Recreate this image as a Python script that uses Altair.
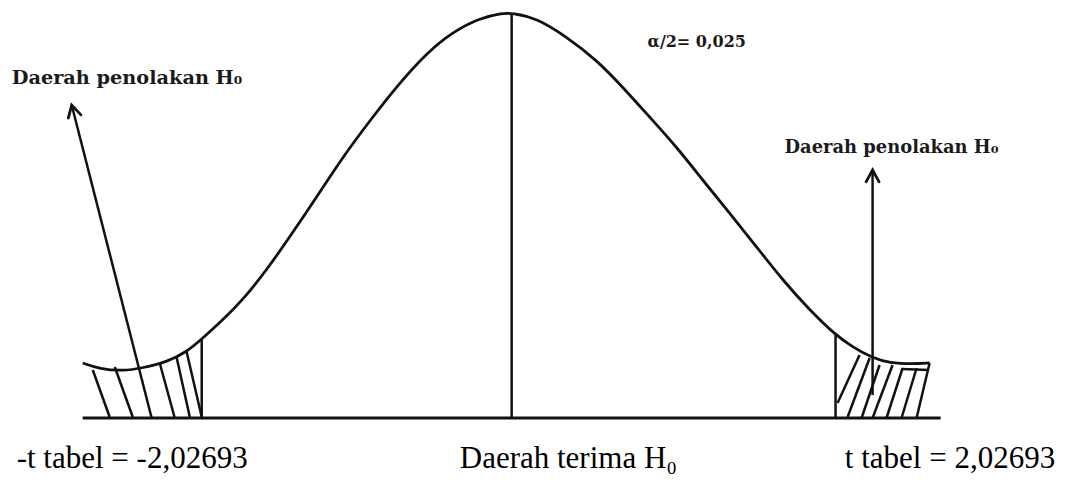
import altair as alt
import pandas as pd

# ---- curve (t position, height) ----
curve_t = [-2.768, -2.658, -2.510, -2.381, -2.226, -2.097, -2.000, -1.884, -1.735, -1.581,
           -1.432, -1.258, -1.090, -0.897, -0.723, -0.548, -0.381, -0.206, -0.058, 0.0,
           0.161, 0.355, 0.548, 0.716, 0.890, 1.065, 1.232, 1.406, 1.581, 1.748,
           1.923, 2.090, 2.200, 2.329, 2.439, 2.587, 2.697]
curve_h = [0.055, 0.049, 0.047, 0.050, 0.056, 0.066, 0.079, 0.095, 0.118, 0.148,
           0.181, 0.221, 0.261, 0.301, 0.335, 0.365, 0.386, 0.400, 0.405, 0.405,
           0.400, 0.381, 0.358, 0.331, 0.301, 0.271, 0.238, 0.205, 0.171, 0.138,
           0.108, 0.083, 0.071, 0.060, 0.055, 0.054, 0.055]

# baseline extent
base_t = [-2.768, 2.768]

# vertical lines: left cut-off, centre, right cut-off
vline_t = [-2.000, 0.0, 2.090]
vline_top = [0.079, 0.404, 0.083]

# hatch segments (x1, y1, x2, y2)
hatch_x1 = [-2.703, -2.561, -2.271, -2.161, -2.097, 2.103, 2.168, 2.258, 2.329, 2.419, 2.516, 2.613, 2.520]
hatch_y1 = [0.048, 0.051, 0.055, 0.060, 0.066, 0.015, 0.001, 0.000, 0.000, 0.000, 0.000, 0.000, 0.049]
hatch_x2 = [-2.594, -2.445, -2.174, -2.077, -2.000, 2.245, 2.310, 2.374, 2.458, 2.523, 2.613, 2.697, 2.690]
hatch_y2 = [0.001, 0.001, 0.000, 0.001, 0.001, 0.063, 0.060, 0.053, 0.053, 0.050, 0.050, 0.055, 0.048]

# arrows (start, tip)
arrow_x1 = [-2.323, 2.329]
arrow_y1 = [0.000, 0.023]
arrow_x2 = [-2.839, 2.329]
arrow_y2 = [0.313, 0.248]
arrow_angle = [345.6, 0.0]

# labels
lab_text = ["Daerah penolakan H\u2080", "\u03b1/2= 0,025", "Daerah penolakan H\u2080"]
lab_t = [-3.226, 0.877, 1.761]
lab_h = [0.340, 0.376, 0.270]
lab_size = [19.3, 16, 17.9]

bot_text = ["-t tabel = -2,02693", "Daerah terima H\u2080", "t tabel = 2,02693"]
bot_t = [-3.194, -0.335, 2.150]
bot_h = [-0.041, -0.041, -0.041]

xs = alt.Scale(domain=[-3.25, 3.59], nice=False, zero=False)
ys = alt.Scale(domain=[-0.06, 0.41], nice=False, zero=False)
INK = "#111111"

curve_df = pd.DataFrame({"t": curve_t, "h": curve_h})
base_df = pd.DataFrame({"t1": [base_t[0]], "t2": [base_t[1]], "h": [0.0]})
vl_df = pd.DataFrame({"t": vline_t, "h1": [0.0] * 3, "h2": vline_top})
hatch_df = pd.DataFrame({"x1": hatch_x1, "y1": hatch_y1, "x2": hatch_x2, "y2": hatch_y2})
arrow_df = pd.DataFrame({"x1": arrow_x1, "y1": arrow_y1, "x2": arrow_x2, "y2": arrow_y2,
                         "ang": arrow_angle})
lab_df = pd.DataFrame({"txt": lab_text, "t": lab_t, "h": lab_h, "s": lab_size})
bot_df = pd.DataFrame({"txt": bot_text, "t": bot_t, "h": bot_h})

curve = alt.Chart(curve_df).mark_line(color=INK, strokeWidth=2.8, interpolate="basis").encode(
    x=alt.X("t:Q", scale=xs, axis=None), y=alt.Y("h:Q", scale=ys, axis=None))

base = alt.Chart(base_df).mark_rule(color=INK, strokeWidth=3).encode(
    x=alt.X("t1:Q", scale=xs, axis=None), x2="t2:Q", y=alt.Y("h:Q", scale=ys, axis=None))

vlines = alt.Chart(vl_df).mark_rule(color=INK, strokeWidth=2.5).encode(
    x=alt.X("t:Q", scale=xs, axis=None), y=alt.Y("h1:Q", scale=ys, axis=None), y2="h2:Q")

hatch = alt.Chart(hatch_df).mark_rule(color=INK, strokeWidth=2.5).encode(
    x=alt.X("x1:Q", scale=xs, axis=None), y=alt.Y("y1:Q", scale=ys, axis=None),
    x2="x2:Q", y2="y2:Q")

arrows = alt.Chart(arrow_df).mark_rule(color=INK, strokeWidth=2.5).encode(
    x=alt.X("x1:Q", scale=xs, axis=None), y=alt.Y("y1:Q", scale=ys, axis=None),
    x2="x2:Q", y2="y2:Q")

heads = alt.Chart(arrow_df).mark_point(
    shape="M-0.55,1L0,0L0.55,1", filled=False, color=INK, strokeWidth=2.8, size=560,
    opacity=1, strokeCap="round", strokeJoin="miter").encode(
    x=alt.X("x2:Q", scale=xs, axis=None), y=alt.Y("y2:Q", scale=ys, axis=None),
    angle=alt.Angle("ang:Q", scale=None))

labels = alt.Chart(lab_df).mark_text(align="left", baseline="middle", font="DejaVu Serif",
                                     fontWeight="bold", color="#1a1a1a").encode(
    x=alt.X("t:Q", scale=xs, axis=None), y=alt.Y("h:Q", scale=ys, axis=None),
    text="txt:N", size=alt.Size("s:Q", scale=None))

bottom = alt.Chart(bot_df).mark_text(align="left", baseline="middle", font="Liberation Serif",
                                     fontSize=31, color="#000000").encode(
    x=alt.X("t:Q", scale=xs, axis=None), y=alt.Y("h:Q", scale=ys, axis=None),
    text="txt:N")

chart = alt.layer(curve, base, vlines, hatch, arrows, heads, labels, bottom).properties(
    width=1060, height=470, autosize=alt.AutoSizeParams(type="none"), padding=0,
    background="white"
).configure_view(stroke=None)

chart.save("out.html", embed_options={"renderer": "svg", "actions": False})
